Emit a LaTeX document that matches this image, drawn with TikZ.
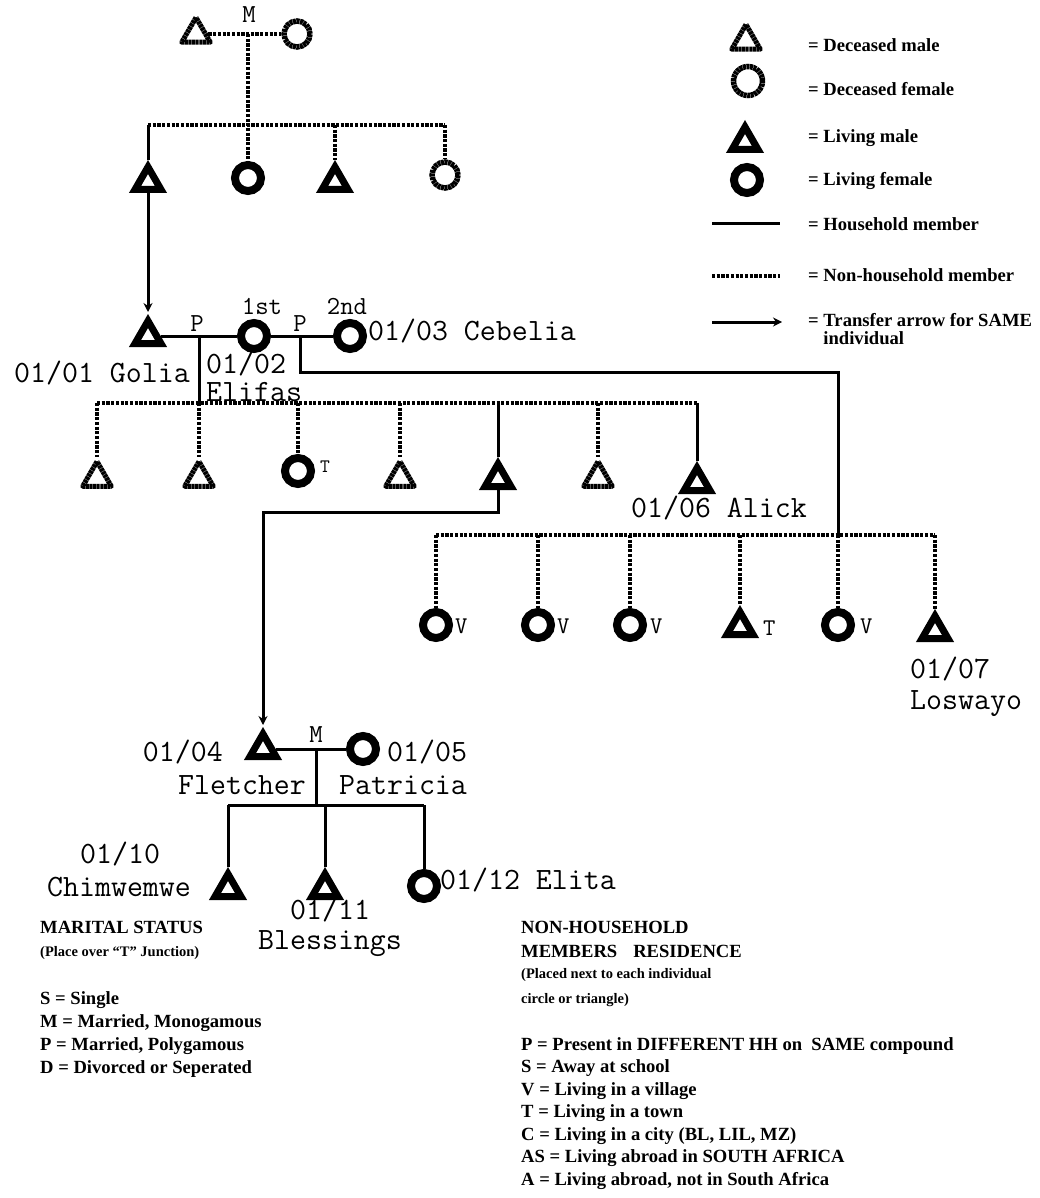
\documentclass[tikz,border=0pt]{standalone}
\usepackage{fontspec}
\newfontfamily\keyfont{Liberation Serif}
\usetikzlibrary{shapes.geometric,arrows.meta}

\begin{document}
\begin{tikzpicture}[x=1pt, y=-1pt,
living_male/.style={regular polygon,regular polygon sides=3,draw=black,line width=7pt,minimum size=30pt,inner sep=0pt},
dead_male/.style={regular polygon,regular polygon sides=3,draw=black,line width=5pt,minimum size=33pt,inner sep=0pt,line join=round,dash pattern=on 3pt off 0.55pt},
living_female/.style={circle,draw=black,line width=8pt,minimum size=26pt,inner sep=0pt},
dead_female/.style={circle,draw=black,line width=5.5pt,minimum size=26pt,inner sep=0pt,dash pattern=on 3pt off 0.55pt},
hh_line/.style={draw=black,line width=3pt},
nonhh_line/.style={draw=black,line width=3.4pt,dash pattern=on 3.2pt off 1.5pt},
transfer_arrow/.style={draw=black,line width=3pt,-{Stealth[length=9pt,width=9pt]},shorten >=2pt},
id_text/.style={font=\fontsize{31}{34}\ttfamily\selectfont,inner sep=0pt},
mark_text/.style={font=\fontsize{26}{30}\ttfamily\selectfont,inner sep=0pt},
res_text/.style={font=\fontsize{24}{28}\ttfamily\selectfont,inner sep=0pt},
key_text/.style={font=\fontsize{18.6}{23}\keyfont\bfseries\selectfont,inner sep=0pt,align=left},
note_text/.style={font=\fontsize{14.5}{25}\keyfont\bfseries\selectfont,inner sep=0pt,align=left}]
\useasboundingbox (0,0) rectangle (1039,1198);

% grandparents
\node[dead_male] (gp_m) at (196,34) {};
\node[dead_female] (gp_f) at (297,34) {};
\node[mark_text,anchor=base] (gp_mark) at (249,23) {M};
\coordinate (gp_t) at (248,34);
\coordinate (sib0_l) at (148,125);
\coordinate (sib0_r) at (445,125);
\node[living_male] (c1) at (148,182) {};
\node[living_female] (c2) at (248,178) {};
\node[living_male] (c3) at (335,182) {};
\node[dead_female] (c4) at (445,175) {};
\draw[nonhh_line] (gp_m) -- (gp_f);
\draw[nonhh_line] (gp_t) -- (c2);
\draw[nonhh_line] (sib0_l) -- (sib0_r);
\draw[hh_line] (sib0_l) -- (c1);
\draw[nonhh_line] (c3 |- sib0_l) -- (c3);
\draw[nonhh_line] (sib0_r) -- (c4);

% Golia and wives
\node[living_male] (golia) at (148,336) {};
\node[living_female] (wife1) at (254,336) {};
\node[living_female] (wife2) at (350,336) {};
\node[mark_text,anchor=base] (p1_mark) at (197,331) {P};
\node[mark_text,anchor=base] (first_mark) at (262,314) {1st};
\node[mark_text,anchor=base] (p2_mark) at (300,331) {P};
\node[mark_text,anchor=base] (second_mark) at (347,314) {2nd};
\node[id_text,anchor=base east] (golia_lbl) at (190,382) {01/01 Golia};
\node[id_text,anchor=base west] (wife1_id) at (206,373) {01/02};
\node[id_text,anchor=base west] (wife1_nm) at (206,401) {Elifas};
\node[id_text,anchor=base west] (wife2_lbl) at (368,340) {01/03 Cebelia};
\draw[transfer_arrow] (c1) -- (golia);
\draw[hh_line] (golia) -- (wife1) -- (wife2);
\coordinate (t1) at (199,336);
\coordinate (t2) at (300,336);
\coordinate (t2_down) at (300,372);
\coordinate (t2_right) at (838,372);

% children of first wife
\coordinate (sib1_l) at (97,403);
\coordinate (sib1_r) at (697,403);
\node[dead_male] (k1) at (97,478) {};
\node[dead_male] (k2) at (199,478) {};
\node[living_female] (k3) at (298,471) {};
\node[dead_male] (k4) at (400,478) {};
\node[living_male] (k5) at (498,479) {};
\node[dead_male] (k6) at (598,478) {};
\node[living_male] (alick) at (697,483) {};
\node[mark_text,anchor=base west,font=\fontsize{19}{22}\ttfamily\selectfont] (k3_res) at (320,472) {T};
\node[id_text,anchor=base west] (alick_lbl) at (631,517) {01/06 Alick};
\draw[hh_line] (t1) -- (t1 |- sib1_l);
\draw[nonhh_line] (sib1_l) -- (sib1_r);
\draw[nonhh_line] (sib1_l) -- (k1);
\draw[nonhh_line] (k2 |- sib1_l) -- (k2);
\draw[nonhh_line] (k3 |- sib1_l) -- (k3);
\draw[nonhh_line] (k4 |- sib1_l) -- (k4);
\draw[hh_line] (k5 |- sib1_l) -- (k5);
\draw[nonhh_line] (k6 |- sib1_l) -- (k6);
\draw[hh_line] (sib1_r) -- (alick);

% children of second wife
\coordinate (sib2_l) at (436,535);
\coordinate (sib2_r) at (935,535);
\node[living_female] (a1) at (436,625) {};
\node[living_female] (a2) at (538,625) {};
\node[living_female] (a3) at (630,625) {};
\node[living_male] (a4) at (740,627) {};
\node[living_female] (a5) at (838,625) {};
\node[living_male] (loswayo) at (935,631) {};
\node[res_text,anchor=base west] (a1_res) at (455,633) {V};
\node[res_text,anchor=base west] (a2_res) at (557,633) {V};
\node[res_text,anchor=base west] (a3_res) at (650,633) {V};
\node[res_text,anchor=base west] (a4_res) at (763,635) {T};
\node[res_text,anchor=base west] (a5_res) at (860,633) {V};
\node[id_text,anchor=base west] (loswayo_id) at (910,678) {01/07};
\node[id_text,anchor=base west] (loswayo_nm) at (910,709) {Loswayo};
\draw[hh_line] (t2) -- (t2_down) -- (t2_right) -- (t2_right |- sib2_l);
\draw[nonhh_line] (sib2_l) -- (sib2_r);
\draw[nonhh_line] (sib2_l) -- (a1);
\draw[nonhh_line] (a2 |- sib2_l) -- (a2);
\draw[nonhh_line] (a3 |- sib2_l) -- (a3);
\draw[nonhh_line] (a4 |- sib2_l) -- (a4);
\draw[nonhh_line] (a5 |- sib2_l) -- (a5);
\draw[nonhh_line] (sib2_r) -- (loswayo);

% Fletcher and Patricia
\node[living_male] (fletcher) at (263,749) {};
\node[living_female] (patricia) at (363,749) {};
\node[mark_text,anchor=base] (m_mark) at (316,742) {M};
\node[id_text,anchor=base east] (fletcher_id) at (223,761) {01/04};
\node[id_text,anchor=base west] (fletcher_nm) at (178,794) {Fletcher};
\node[id_text,anchor=base west] (patricia_id) at (387,761) {01/05};
\node[id_text,anchor=base west] (patricia_nm) at (339,794) {Patricia};
\coordinate (k5_turn) at (498,512);
\coordinate (fl_turn) at (263,512);
\draw[transfer_arrow] (k5) -- (k5_turn) -- (fl_turn) -- (fletcher);
\draw[hh_line] (fletcher) -- (patricia);
\coordinate (t3) at (316,749);
\coordinate (sib3_l) at (228,805);
\coordinate (sib3_r) at (424,805);
\node[living_male] (chim) at (228,889) {};
\node[living_male] (bless) at (325,889) {};
\node[living_female] (elita) at (424,886) {};
\node[id_text,anchor=base west] (chim_id) at (80,863) {01/10};
\node[id_text,anchor=base west] (chim_nm) at (47,896) {Chimwemwe};
\node[id_text,anchor=base west] (bless_id) at (290,919) {01/11};
\node[id_text,anchor=base west] (bless_nm) at (258,949) {Blessings};
\node[id_text,anchor=base west] (elita_lbl) at (440,889) {01/12 Elita};
\draw[hh_line] (t3) -- (t3 |- sib3_l);
\draw[hh_line] (sib3_l) -- (sib3_r);
\draw[hh_line] (sib3_l) -- (chim);
\draw[hh_line] (bless |- sib3_l) -- (bless);
\draw[hh_line] (sib3_r) -- (elita);

% key
\node[dead_male] (key_dm) at (746,41) {};
\node[dead_female,minimum size=29pt] (key_df) at (748,81) {};
\node[living_male] (key_lm) at (745,142) {};
\node[living_female] (key_lf) at (747,180) {};
\coordinate (key_hh_a) at (712,224);
\coordinate (key_hh_b) at (780,224);
\coordinate (key_non_a) at (712,276);
\coordinate (key_non_b) at (780,276);
\coordinate (key_tr_a) at (712,322);
\coordinate (key_tr_b) at (782,322);
\draw[hh_line] (key_hh_a) -- (key_hh_b);
\draw[nonhh_line] (key_non_a) -- (key_non_b);
\draw[transfer_arrow,shorten >=0pt] (key_tr_a) -- (key_tr_b);
\node[key_text,anchor=base west] (key_dm_txt) at (808,52) {= Deceased male};
\node[key_text,anchor=base west] (key_df_txt) at (808,96) {= Deceased female};
\node[key_text,anchor=base west] (key_lm_txt) at (808,143) {= Living male};
\node[key_text,anchor=base west] (key_lf_txt) at (808,186) {= Living female};
\node[key_text,anchor=base west] (key_hh_txt) at (808,231) {= Household member};
\node[key_text,anchor=base west] (key_non_txt) at (808,281) {= Non-household member};
\node[key_text,anchor=north west,font=\fontsize{18.6}{18}\keyfont\bfseries\selectfont] (key_tr_txt) at (808,313) {= Transfer arrow for SAME\\\hphantom{= }individual};

% marital status
\node[key_text,anchor=north west] (marital_head) at (40,921) {MARITAL STATUS};
\node[note_text,anchor=north west] (marital_note) at (40,946) {(Place over “T” Junction)};
\node[key_text,anchor=north west] (marital_list) at (40,991) {S = Single\\M = Married, Monogamous\\P = Married, Polygamous\\D = Divorced or Seperated};

% residence
\node[key_text,anchor=north west,font=\fontsize{18.6}{24}\keyfont\bfseries\selectfont] (res_head) at (521,921) {NON-HOUSEHOLD\\MEMBERS\hspace{16pt}RESIDENCE};
\node[note_text,anchor=north west] (res_note) at (521,968) {(Placed next to each individual\\circle or triangle)};
\node[key_text,anchor=north west,font=\fontsize{18.6}{22.5}\keyfont\bfseries\selectfont] (res_list) at (521,1037) {P = Present in DIFFERENT HH on\ \ SAME compound\\S = Away at school\\V = Living in a village\\T = Living in a town\\C = Living in a city (BL, LIL, MZ)\\AS = Living abroad in SOUTH AFRICA\\A = Living abroad, not in South Africa};
\end{tikzpicture}
\end{document}
